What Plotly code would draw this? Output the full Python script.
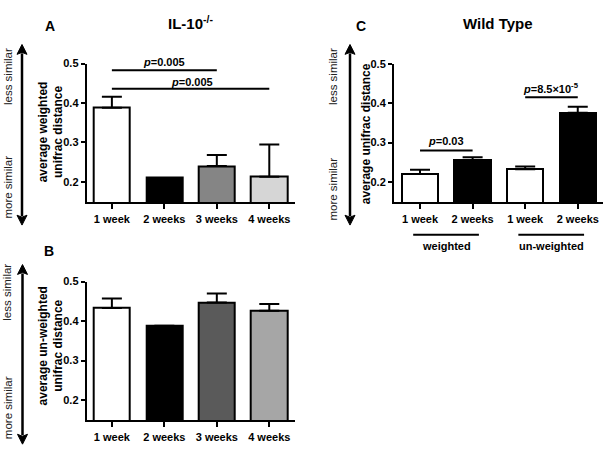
import plotly.graph_objects as go

# ---------------- data ----------------
weeks_A = ["1 week", "2 weeks", "3 weeks", "4 weeks"]
weighted_A_mean = [0.388, 0.210, 0.240, 0.213]
weighted_A_err = [0.028, 0.0, 0.028, 0.082]

weeks_B = ["1 week", "2 weeks", "3 weeks", "4 weeks"]
unweighted_B_mean = [0.433, 0.388, 0.447, 0.426]
unweighted_B_err = [0.024, 0.0, 0.023, 0.017]

weeks_C = ["1 week", "2 weeks", "1 week", "2 weeks"]
wildtype_C_mean = [0.220, 0.255, 0.232, 0.376]
wildtype_C_err = [0.011, 0.008, 0.007, 0.015]

y_ticks = [0.2, 0.3, 0.4, 0.5]
Y_RANGE = [0.148, 0.5]

colors_A = ["#ffffff", "#000000", "#858585", "#d6d6d6"]
colors_B = ["#ffffff", "#000000", "#5a5a5a", "#a6a6a6"]
colors_C = ["#ffffff", "#000000", "#ffffff", "#000000"]

W, H = 603, 456
FONT = "Liberation Sans, Arial, sans-serif"


def px_x(p):
    return p / W


def px_y(p):
    return 1 - p / H


fig = go.Figure()


def add_bars(means, errs, colors, xa, ya):
    xs = list(range(len(means)))
    fig.add_trace(go.Bar(
        x=xs, y=means, width=0.69,
        marker=dict(color=colors, line=dict(color="black", width=2)),
        error_y=dict(type="data", symmetric=False, array=errs,
                     arrayminus=[0] * len(errs), color="black",
                     thickness=2, width=10),
        xaxis=xa, yaxis=ya, showlegend=False, hoverinfo="skip",
    ))


add_bars(weighted_A_mean, weighted_A_err, colors_A, "x", "y")
add_bars(unweighted_B_mean, unweighted_B_err, colors_B, "x2", "y2")
add_bars(wildtype_C_mean, wildtype_C_err, colors_C, "x3", "y3")

tickfont = dict(family=FONT, size=11, color="black", weight="bold")


def xaxis(dom, labels, rng, anchor):
    return dict(domain=dom, range=rng, tickvals=list(range(len(labels))),
                ticktext=labels, showline=True, linecolor="black",
                linewidth=2, ticks="outside", ticklen=5, tickwidth=1.5,
                tickcolor="black", showgrid=False, zeroline=False,
                tickfont=tickfont, anchor=anchor, fixedrange=True)


def yaxis(dom, anchor):
    return dict(domain=dom, range=Y_RANGE, tickvals=y_ticks,
                tickformat=".1f", showline=True, linecolor="black",
                linewidth=2, ticks="outside", ticklen=4, tickwidth=1.5,
                tickcolor="black", showgrid=False, zeroline=False,
                tickfont=tickfont, anchor=anchor, fixedrange=True)


fig.update_layout(
    width=W, height=H, margin=dict(l=0, r=0, t=0, b=0),
    paper_bgcolor="white", plot_bgcolor="white", showlegend=False,
    bargap=0,
    xaxis=xaxis([px_x(86.7), px_x(295)], weeks_A, [-0.48, 3.49], "y"),
    yaxis=yaxis([px_y(199), px_y(58.3)], "x"),
    xaxis2=xaxis([px_x(86.7), px_x(295)], weeks_B, [-0.48, 3.49], "y2"),
    yaxis2=yaxis([px_y(420), px_y(279.3)], "x2"),
    xaxis3=xaxis([px_x(394), px_x(603)], weeks_C, [-0.495, 3.48], "y3"),
    yaxis3=yaxis([px_y(199), px_y(58.7)], "x3"),
)

ann = []
shapes = []


def text(x, y, s, size=11, bold=True, angle=0, xref="paper", yref="paper",
         color="black"):
    ann.append(dict(x=x, y=y, xref=xref, yref=yref, text=s, showarrow=False,
                    textangle=angle, xanchor="center", yanchor="middle",
                    font=dict(family=FONT, size=size, color=color,
                              weight="bold" if bold else "normal")))


def ydom(v):
    """value -> fraction of the y-axis domain (allows > 1, not clipped)"""
    return (v - Y_RANGE[0]) / (Y_RANGE[1] - Y_RANGE[0])


# panel letters and titles
text(px_x(50), px_y(20), "A", size=14)
text(px_x(190), px_y(17), "IL-10<sup>-/-</sup>", size=15)
text(px_x(49), px_y(248), "B", size=14)
text(px_x(361), px_y(20), "C", size=14)
text(px_x(498), px_y(18), "Wild Type", size=15)

# y axis titles
text(px_x(51), px_y(128), "average weighted<br>unifrac distance", size=12, angle=-90)
text(px_x(51), px_y(345), "average un-weighted<br>unifrac distance", size=12, angle=-90)
text(px_x(366), px_y(130), "average unifrac distance", size=12, angle=-90)

# similarity arrows (line + two filled heads) and labels
for ax_x, top, bot, lx, less_c, more_c in [
    (22, 39, 222, 8, 72, 184),
    (22.5, 262, 444, 7.5, 290, 407),
    (350, 39, 222, 333, 72, 186),
]:
    hw, hh = 5, 10
    shapes.append(dict(type="line", xref="paper", yref="paper",
                       x0=px_x(ax_x), x1=px_x(ax_x),
                       y0=px_y(top + hh - 1), y1=px_y(bot - hh + 1),
                       line=dict(color="black", width=2.5)))
    for tip, base in [(top, top + hh), (bot, bot - hh)]:
        path = (f"M {px_x(ax_x)} {px_y(tip)} "
                f"L {px_x(ax_x - hw)} {px_y(base)} "
                f"L {px_x(ax_x)} {px_y(base - (2 if tip == top else -2))} "
                f"L {px_x(ax_x + hw)} {px_y(base)} Z")
        shapes.append(dict(type="path", xref="paper", yref="paper", path=path,
                           fillcolor="black", line=dict(color="black", width=1)))
    text(px_x(lx), px_y(less_c), "less similar", size=11.5, bold=False,
         angle=-90, color="#222222")
    text(px_x(lx), px_y(more_c), "more similar", size=11.5, bold=False,
         angle=-90, color="#222222")

# significance brackets panel A
sig_A = [(0, 2, 0.483, 1.0, 0.503, "<i>p</i>=0.005"),
         (0, 3, 0.436, 1.52, 0.453, "<i>p</i>=0.005")]
for x0, x1, ly, tx, ty, s in sig_A:
    shapes.append(dict(type="line", xref="x", yref="y", x0=x0, x1=x1,
                       y0=ly, y1=ly, line=dict(color="black", width=2)))
    text(tx, ydom(ty), s, size=11, xref="x", yref="y domain")

# significance brackets panel C
sig_C = [(0, 1, 0.280, 0.5, 0.304, "<i>p</i>=0.03"),
         (2, 3, 0.415, 2.5, 0.438, "<i>p</i>=8.5×10<sup>-5</sup>")]
for x0, x1, ly, tx, ty, s in sig_C:
    shapes.append(dict(type="line", xref="x3", yref="y3", x0=x0, x1=x1,
                       y0=ly, y1=ly, line=dict(color="black", width=2)))
    text(tx, ydom(ty), s, size=11, xref="x3", yref="y3 domain")

# group labels under panel C
for x0, x1, label in [(-0.13, 1.12, "weighted"), (1.87, 3.12, "un-weighted")]:
    shapes.append(dict(type="line", xref="x3", yref="paper", x0=x0, x1=x1,
                       y0=px_y(231.7), y1=px_y(231.7),
                       line=dict(color="black", width=2)))
    text((x0 + x1) / 2, px_y(243), label, size=11, xref="x3")

fig.update_layout(annotations=ann, shapes=shapes)
fig.write_html("out.html")
